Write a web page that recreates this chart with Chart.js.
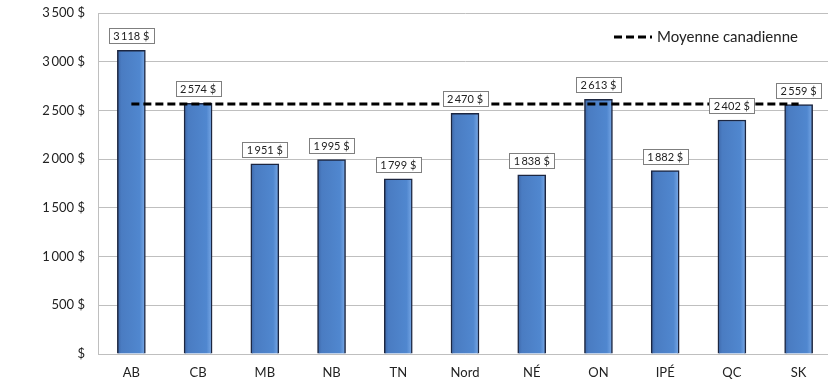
<!DOCTYPE html>
<html lang="fr">
<head>
    <title>Moyenne canadienne par province</title>
    <meta charset="utf-8">
    <script src="https://cdn.jsdelivr.net/npm/chart.js@4.4.0/dist/chart.umd.min.js"></script>
    <style>
        body { margin: 0; background: #fff; overflow: hidden; }
        #wrap { width: 828px; height: 390px; overflow: hidden; }
    </style>
</head>
<body>
<div id="wrap">
    <canvas id="chart" width="832" height="390"></canvas>
</div>
<script>
// data
const provinces = ["AB", "CB", "MB", "NB", "TN", "Nord", "NÉ", "ON", "IPÉ", "QC", "SK"];
const montants = [3118, 2574, 1951, 1995, 1799, 2470, 1838, 2613, 1882, 2402, 2559];
const moyenneCanadienne = 2565;
const yTicks = [0, 500, 1000, 1500, 2000, 2500, 3000, 3500];

const FONT = "Lato, 'Liberation Sans', sans-serif";
const BAR_W = 28;

function fmt(v) {
    if (v === 0) return "$";
    return String(v).replace(/\B(?=(\d{3})+(?!\d))/g, "\u2009") + " $";
}

function barFill(ctx) {
    const chart = ctx.chart;
    const xs = chart.scales.x;
    if (!chart.chartArea || !xs || ctx.dataIndex === undefined) return "#4f81c4";
    const cx = xs.getPixelForValue(ctx.dataIndex);
    if (!isFinite(cx)) return "#4f81c4";
    const g = chart.ctx.createLinearGradient(cx - BAR_W / 2, 0, cx + BAR_W / 2, 0);
    g.addColorStop(0, "#3d67a8");
    g.addColorStop(0.15, "#4a7cc2");
    g.addColorStop(0.8, "#5087cf");
    g.addColorStop(1, "#7aa9e6");
    return g;
}

// value boxes above the bars
const valueBoxes = {
    id: "valueBoxes",
    afterDatasetsDraw(chart) {
        const ctx = chart.ctx;
        const meta = chart.getDatasetMeta(1);
        ctx.save();
        ctx.font = "11px " + FONT;
        ctx.textAlign = "center";
        ctx.textBaseline = "middle";
        meta.data.forEach((bar, i) => {
            const txt = fmt(montants[i]);
            const w = Math.round(ctx.measureText(txt).width) + 9;
            const h = 15;
            const x = Math.round(bar.x - w / 2) + 0.5;
            const y = Math.round(bar.y - 7 - h) + 0.5;
            ctx.fillStyle = "#fff";
            ctx.fillRect(x, y, w, h);
            ctx.strokeStyle = "#7f7f7f";
            ctx.lineWidth = 1;
            ctx.strokeRect(x, y, w, h);
            ctx.fillStyle = "#222";
            ctx.fillText(txt, bar.x, y + h / 2 + 0.5);
        });
        ctx.restore();
    }
};

// legend in the top right of the plot
const cornerLegend = {
    id: "cornerLegend",
    afterDraw(chart) {
        const ctx = chart.ctx;
        const ds = chart.data.datasets[0];
        ctx.save();
        ctx.strokeStyle = ds.borderColor;
        ctx.lineWidth = ds.borderWidth;
        ctx.setLineDash(ds.borderDash);
        ctx.beginPath();
        ctx.moveTo(614, 37);
        ctx.lineTo(652, 37);
        ctx.stroke();
        ctx.setLineDash([]);
        ctx.font = "15px " + FONT;
        ctx.fillStyle = "#222";
        ctx.textBaseline = "middle";
        ctx.fillText(ds.label, 657, 37);
        ctx.restore();
    }
};

new Chart("chart", {
    data: {
        labels: provinces,
        datasets: [
            {
                type: "line",
                label: "Moyenne canadienne",
                data: provinces.map(() => moyenneCanadienne),
                borderColor: "#000",
                borderWidth: 3,
                borderDash: [8, 4],
                pointRadius: 0,
                order: 0
            },
            {
                type: "bar",
                label: "Montant",
                data: montants,
                backgroundColor: barFill,
                borderColor: "#1c2640",
                borderWidth: 1.5,
                barThickness: BAR_W,
                order: 1
            }
        ]
    },
    options: {
        responsive: false,
        animation: false,
        layout: { padding: { top: 13, right: 0, left: 0, bottom: 0 } },
        plugins: {
            legend: { display: false },
            tooltip: { enabled: false }
        },
        scales: {
            x: {
                afterFit: (axis) => { axis.height = 36; },
                grid: { display: false, drawTicks: false },
                border: { color: "#bfbfbf" },
                ticks: { color: "#222", font: { family: FONT, size: 13 }, padding: 11 }
            },
            y: {
                min: 0,
                max: 3500,
                afterBuildTicks: (axis) => { axis.ticks = yTicks.map(v => ({ value: v })); },
                afterFit: (axis) => { axis.width = 98; axis.paddingTop = 0; axis.paddingBottom = 0; },
                grid: { color: "#bfbfbf", drawTicks: false },
                border: { color: "#bfbfbf" },
                ticks: {
                    color: "#222",
                    font: { family: FONT, size: 13 },
                    padding: 13,
                    callback: (v) => fmt(v)
                }
            }
        }
    },
    plugins: [valueBoxes, cornerLegend]
});
</script>
</body>
</html>
